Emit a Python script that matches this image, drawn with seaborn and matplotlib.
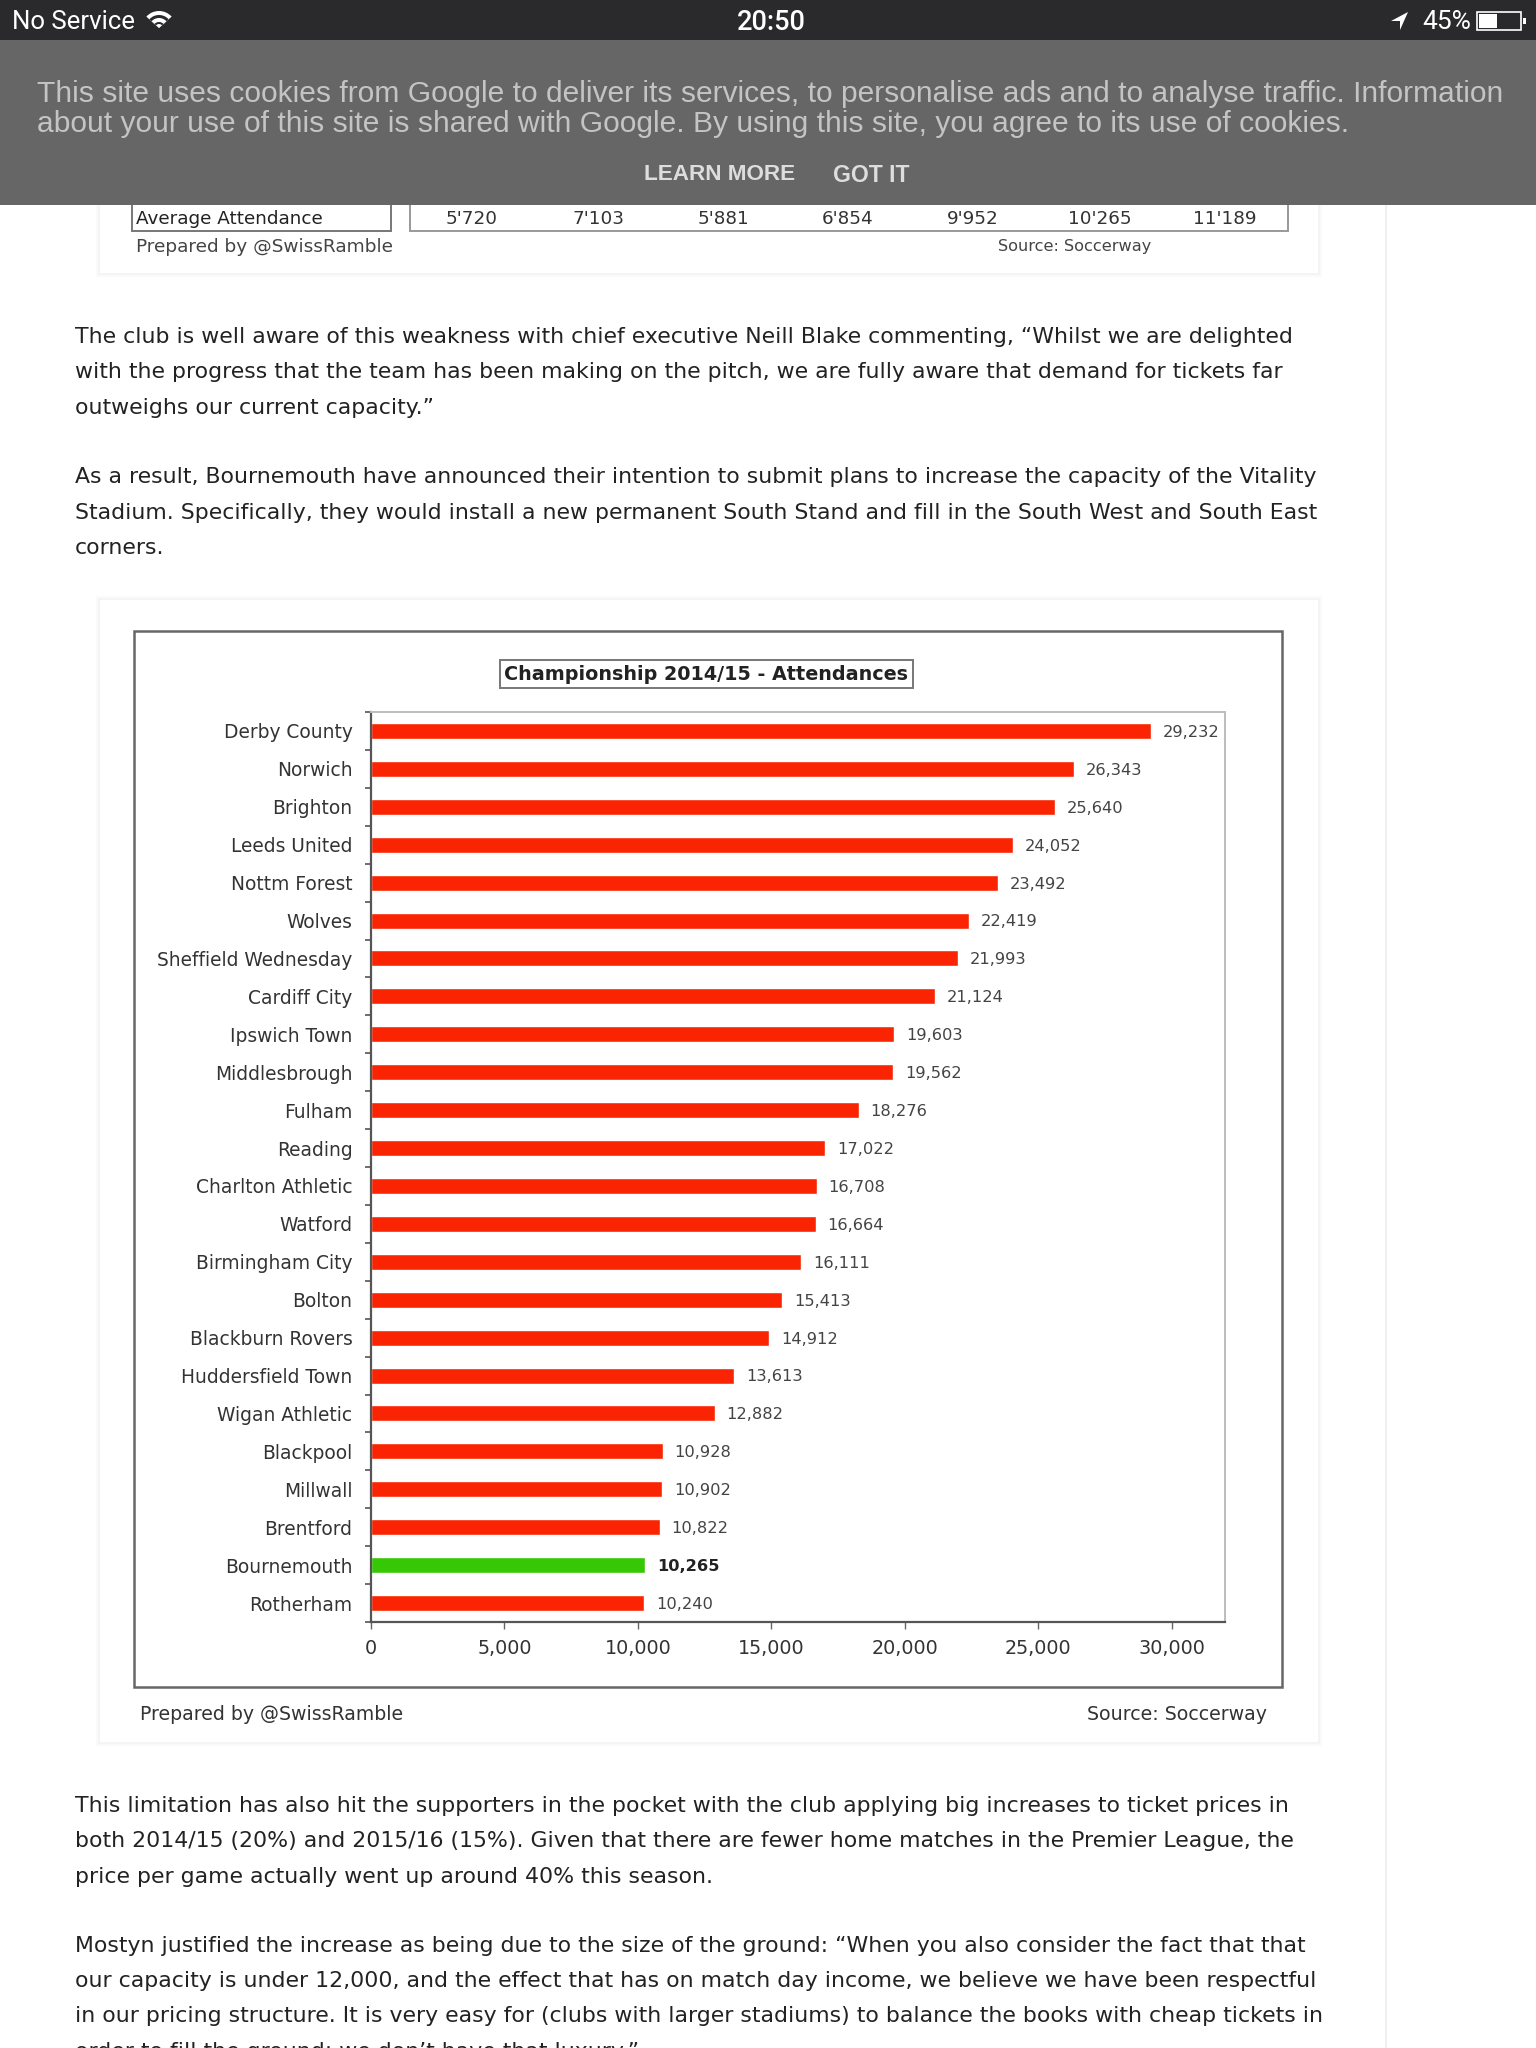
import numpy as np
import pandas as pd
import seaborn as sns
import matplotlib
matplotlib.use("Agg")
import matplotlib.pyplot as plt
from matplotlib.patches import Rectangle, Polygon, Wedge

W, H = 1536, 2048

teams = ["Derby County", "Norwich", "Brighton", "Leeds United", "Nottm Forest", "Wolves",
         "Sheffield Wednesday", "Cardiff City", "Ipswich Town", "Middlesbrough", "Fulham",
         "Reading", "Charlton Athletic", "Watford", "Birmingham City", "Bolton",
         "Blackburn Rovers", "Huddersfield Town", "Wigan Athletic", "Blackpool", "Millwall",
         "Brentford", "Bournemouth", "Rotherham"]
attendance = [29232, 26343, 25640, 24052, 23492, 22419, 21993, 21124, 19603, 19562, 18276,
              17022, 16708, 16664, 16111, 15413, 14912, 13613, 12882, 10928, 10902, 10822,
              10265, 10240]
highlight = "Bournemouth"
xticks = [0, 5000, 10000, 15000, 20000, 25000, 30000]
old_attendance = ["5'720", "7'103", "5'881", "6'854", "9'952", "10'265", "11'189"]

para_top = ["The club is well aware of this weakness with chief executive Neill Blake commenting, “Whilst we are delighted",
            "with the progress that the team has been making on the pitch, we are fully aware that demand for tickets far",
            "outweighs our current capacity.”"]
para_2 = ["As a result, Bournemouth have announced their intention to submit plans to increase the capacity of the Vitality",
          "Stadium. Specifically, they would install a new permanent South Stand and fill in the South West and South East",
          "corners."]
para_3 = ["This limitation has also hit the supporters in the pocket with the club applying big increases to ticket prices in",
          "both 2014/15 (20%) and 2015/16 (15%). Given that there are fewer home matches in the Premier League, the",
          "price per game actually went up around 40% this season."]
para_4 = ["Mostyn justified the increase as being due to the size of the ground: “When you also consider the fact that that",
          "our capacity is under 12,000, and the effect that has on match day income, we believe we have been respectful",
          "in our pricing structure. It is very easy for (clubs with larger stadiums) to balance the books with cheap tickets in",
          "order to fill the ground; we don’t have that luxury.”"]
cookie_text = ["This site uses cookies from Google to deliver its services, to personalise ads and to analyse traffic. Information",
               "about your use of this site is shared with Google. By using this site, you agree to its use of cookies."]

sns.set_theme(style="white")
plt.rcParams["font.family"] = ["DejaVu Sans"]

fig = plt.figure(figsize=(W / 100, H / 100), dpi=100, facecolor="white")
bg = fig.add_axes([0, 0, 1, 1], zorder=0)
bg.set_xlim(0, W)
bg.set_ylim(H, 0)
bg.axis("off")


def box(ax, x0, y0, x1, y1, fc="white", ec="none", lw=1.0, z=1):
    ax.add_patch(Rectangle((x0, y0), x1 - x0, y1 - y0, facecolor=fc, edgecolor=ec, linewidth=lw, zorder=z))


# page furniture
bg.plot([1386, 1386], [0, H], color="#ececec", lw=1.2, zorder=1)
for off, col in [(4, "#fafafa"), (2, "#f4f4f4")]:
    box(bg, 100 - off, 600 - off, 1318 + off, 1742 + off, fc=col, z=1)
    box(bg, 100 - off, 150, 1318 + off, 273 + off, fc=col, z=1)
box(bg, 100, 600, 1318, 1742, z=2)
box(bg, 100, 150, 1318, 273, z=2)
box(bg, 134, 631, 1282, 1687, ec="#666666", lw=1.8, z=3)

for lines, ys in [(para_top, [337, 372, 408]), (para_2, [477, 513, 548]),
                  (para_3, [1806, 1841, 1877]), (para_4, [1946, 1981, 2016, 2052])]:
    for s, y in zip(lines, ys):
        bg.text(75, y, s, fontsize=15.8, color="#222222", va="center", ha="left", zorder=5)

# chart
ax = fig.add_axes([371 / W, 1 - 1622 / H, (1225 - 371) / W, (1622 - 712) / H], zorder=4)
ax.patch.set_alpha(0)
df = pd.DataFrame({"team": teams, "attendance": attendance})
palette = {t: ("#36c805" if t == highlight else "#fb2402") for t in teams}
sns.barplot(data=df, y="team", x="attendance", hue="team", palette=palette, legend=False,
            orient="h", width=0.42, saturation=1, ax=ax)
ax.set_xlim(0, 32000)
ax.set_ylim(len(teams) - 0.5, -0.5)
ax.set_xlabel("")
ax.set_ylabel("")
ax.set_xticks(xticks)
ax.set_xticklabels([f"{v:,}" for v in xticks], fontsize=13.8, color="#333333")
ax.set_yticks(np.arange(len(teams)))
ax.set_yticklabels(teams, fontsize=13.4, color="#333333")
ax.set_yticks(np.arange(len(teams) + 1) - 0.5, minor=True)
ax.tick_params(axis="y", which="major", length=0, pad=13.4)
ax.tick_params(axis="y", which="minor", length=4, width=1.2, color="#555555", left=True)
ax.tick_params(axis="x", which="major", length=5, width=1, color="#666666", pad=7, bottom=True)
for s in ["left", "bottom"]:
    ax.spines[s].set_color("#555555")
    ax.spines[s].set_linewidth(1.6)
for s in ["top", "right"]:
    ax.spines[s].set_color("#bdbdbd")
    ax.spines[s].set_linewidth(1.4)
for i, (t, v) in enumerate(zip(teams, attendance)):
    ax.annotate(f"{v:,}", (v, i), xytext=(8.5, -1), textcoords="offset points", va="center", ha="left",
                fontsize=11.7, color="#222222" if t == highlight else "#444444",
                fontweight="bold" if t == highlight else "normal")

bg.text(706.5, 674, "Championship 2014/15 - Attendances", fontsize=13.75, fontweight="bold", color="#222222",
        ha="center", va="center", zorder=5,
        bbox=dict(boxstyle="square,pad=0.25", fc="white", ec="#777777", lw=1.4))
bg.text(140, 1714, "Prepared by @SwissRamble", fontsize=13.6, color="#333333", va="center", zorder=5)
bg.text(1267, 1714, "Source: Soccerway", fontsize=13.7, color="#333333", va="center", ha="right", zorder=5)

# leftover table above the chart
box(bg, 132, 195, 391, 231, ec="#777777", lw=1.4, z=3)
box(bg, 410, 195, 1288, 231, ec="#999999", lw=1.4, z=3)
bg.text(136, 219, "Average Attendance", fontsize=13.2, color="#222222", va="center", zorder=4)
for x, s in zip([472, 598, 723, 848, 973, 1100, 1225], old_attendance):
    bg.text(x, 219, s, fontsize=13.2, color="#333333", va="center", ha="center", zorder=4)
bg.text(136, 247, "Prepared by @SwissRamble", fontsize=13.3, color="#444444", va="center", zorder=4)
bg.text(1075, 247, "Source: Soccerway", fontsize=11.6, color="#444444", va="center", ha="center", zorder=4)

# cookie banner and status bar sit on top of everything
top = fig.add_axes([0, 0, 1, 1], zorder=10)
top.set_xlim(0, W)
top.set_ylim(H, 0)
top.axis("off")
box(top, 0, 40, W, 205, fc="#666666", z=1)
box(top, 0, 0, W, 40, fc="#2a2a2c", z=1)
for s, y in zip(cookie_text, [94, 124]):
    top.text(37, y, s, family="Liberation Sans", fontsize=21.6, color="#c4c4c4", va="center", zorder=2)
top.text(644, 175, "LEARN MORE", family="Liberation Sans", fontweight="bold", fontsize=16.2, color="#dddddd", va="center", zorder=2)
top.text(833, 175, "GOT IT", family="Liberation Sans", fontweight="bold", fontsize=16.6, color="#dddddd", va="center", zorder=2)
top.text(12, 22, "No Service", family="Roboto", fontsize=18.5, color="white", va="center", zorder=2)
top.text(771, 22, "20:50", family="Roboto", fontweight="medium", fontsize=19.6, color="white", va="center", ha="center", zorder=2)
top.text(1422, 22, "45%", family="Roboto", fontsize=19, color="white", va="center", zorder=2)
# wifi icon
for r, col in [(17, "white"), (13, "#2a2a2c"), (10, "white"), (6, "#2a2a2c"), (4, "white")]:
    top.add_patch(Wedge((159, 28), r, 222, 318, facecolor=col, edgecolor="none", zorder=3))
# location arrow
top.add_patch(Polygon([(1408, 12), (1391, 21), (1400, 21), (1400, 30)], closed=True, fc="white", ec="none", zorder=3))
# battery
top.add_patch(Rectangle((1477, 12), 44, 18, fc="none", ec="white", lw=1.2, zorder=3))
box(top, 1479, 14, 1497, 28, fc="white", z=3)
box(top, 1523, 18, 1526, 24, fc="white", z=3)

fig.savefig("out.png", dpi=100)
